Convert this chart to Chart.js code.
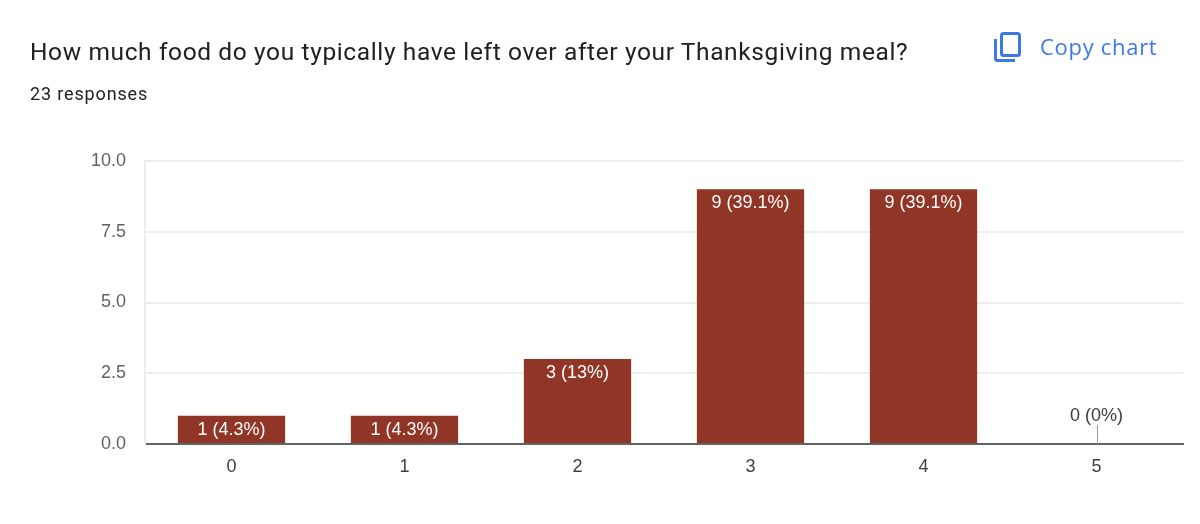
<!DOCTYPE html>
<html>
<head>
<meta charset="utf-8">
<title>Thanksgiving leftovers</title>
<script src="https://cdn.jsdelivr.net/npm/chart.js@4"></script>
<style>
  html, body { margin: 0; padding: 0; background: #fff; }
  #page { position: relative; width: 1200px; height: 524px; overflow: hidden; }
  #grafica { position: absolute; left: 0; top: 0; }
  #titulo { position: absolute; left: 30px; top: 37px; font: 400 24.5px/30px Roboto, sans-serif; letter-spacing: 0.62px; color: #202124; white-space: nowrap; }
  #respuestas { position: absolute; left: 30px; top: 83px; font: 400 18px/22px Roboto, sans-serif; letter-spacing: 0.85px; color: #202124; white-space: nowrap; }
  #copiar { position: absolute; left: 1040px; top: 32px; font: 500 22px/28px "Open Sans", sans-serif; letter-spacing: 0.7px; color: #3c78e8; white-space: nowrap; }
  #icono { position: absolute; left: 992px; top: 30px; }
</style>
</head>
<body>
<div id="page">
  <canvas id="grafica" width="1200" height="524" style="width:1200px;height:524px"></canvas>
  <div id="titulo">How much food do you typically have left over after your Thanksgiving meal?</div>
  <div id="respuestas">23 responses</div>
  <svg id="icono" width="32" height="36" viewBox="0 0 32 36" fill="none" stroke="#3c78e8" stroke-width="3">
    <rect x="9.5" y="3.5" width="18" height="22" rx="2"/>
    <path d="M3.5 9 V28.5 a2 2 0 0 0 2 2 H23"/>
  </svg>
  <div id="copiar">Copy chart</div>
</div>
<script>
const categorias = ['0', '1', '2', '3', '4', '5'];
const respuestas = [1, 1, 3, 9, 9, 0];
const etiquetas = ['1 (4.3%)', '1 (4.3%)', '3 (13%)', '9 (39.1%)', '9 (39.1%)', '0 (0%)'];
const ticksY = [0, 2.5, 5, 7.5, 10];

// Etiquetas de cada barra: dentro en blanco, o encima con un palito si vale 0
const pluginEtiquetas = {
  id: 'etiquetas',
  afterDatasetsDraw(chart) {
    const ctx = chart.ctx;
    const meta = chart.getDatasetMeta(0);
    ctx.save();
    ctx.font = '18px "Liberation Sans", Arial, sans-serif';
    ctx.textAlign = 'center';
    ctx.textBaseline = 'middle';
    meta.data.forEach((barra, i) => {
      if (respuestas[i] === 0) {
        ctx.strokeStyle = '#999999';
        ctx.lineWidth = 1;
        ctx.beginPath();
        ctx.moveTo(Math.round(barra.x) + 0.5, barra.y);
        ctx.lineTo(Math.round(barra.x) + 0.5, barra.y - 19);
        ctx.stroke();
        ctx.fillStyle = '#3c4043';
        ctx.fillText(etiquetas[i], barra.x, barra.y - 28);
      } else {
        ctx.fillStyle = '#ffffff';
        ctx.fillText(etiquetas[i], barra.x, barra.y + 14);
      }
    });
    ctx.restore();
  }
};

new Chart(document.getElementById('grafica').getContext('2d'), {
  type: 'bar',
  data: {
    labels: categorias,
    datasets: [{
      data: respuestas,
      backgroundColor: '#913526',
      categoryPercentage: 0.62,
      barPercentage: 1
    }]
  },
  options: {
    responsive: false,
    animation: false,
    devicePixelRatio: 1,
    layout: { padding: { top: 161, right: 17, left: 0, bottom: 0 } },
    plugins: { legend: { display: false }, tooltip: { enabled: false } },
    scales: {
      x: {
        grid: { display: false, drawTicks: false },
        border: { color: '#5f6368', width: 2 },
        ticks: { color: '#3c4043', font: { family: '"Liberation Sans", Arial, sans-serif', size: 18 }, padding: 12, maxRotation: 0 },
        afterFit(scale) { scale.height = 80; }
      },
      y: {
        min: 0,
        max: 10,
        afterBuildTicks(scale) { scale.ticks = ticksY.map(v => ({ value: v })); },
        grid: { color: '#eeeeee', lineWidth: 2, drawTicks: false },
        border: { color: '#eeeeee', width: 2 },
        ticks: {
          color: '#5f6368',
          font: { family: '"Liberation Sans", Arial, sans-serif', size: 18 },
          padding: 19,
          callback: v => v.toFixed(1)
        },
        afterFit(scale) { scale.width = 145; }
      }
    }
  },
  plugins: [pluginEtiquetas]
});
</script>
</body>
</html>
